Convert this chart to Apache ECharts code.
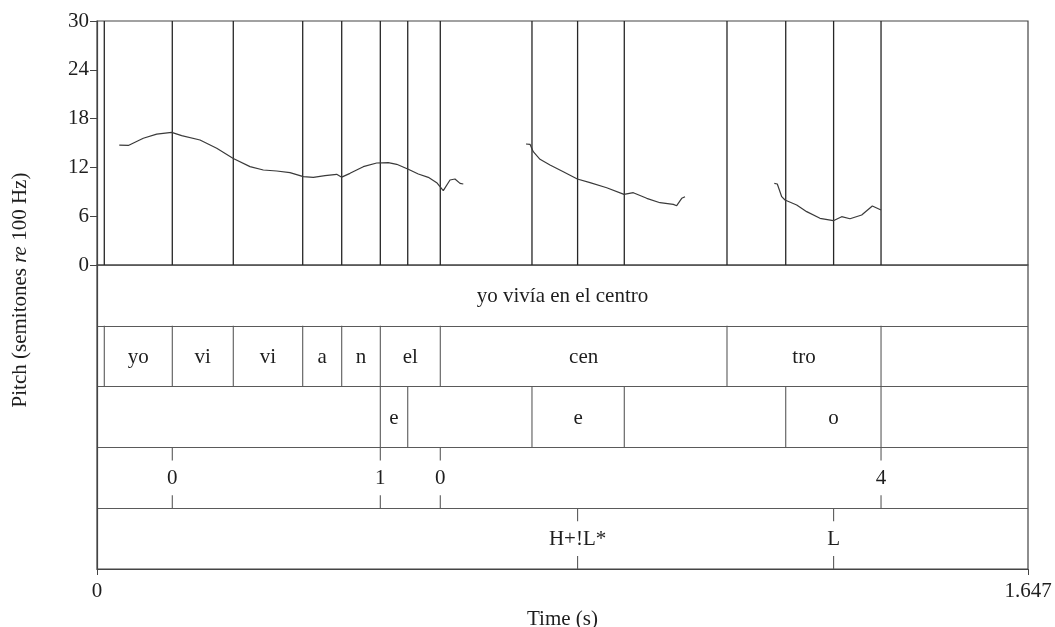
<!DOCTYPE html>
<html>
<head>
<meta charset="utf-8">
<script src="https://cdn.jsdelivr.net/npm/echarts@6/dist/echarts.min.js"></script>
<style>
  html, body { margin: 0; padding: 0; background: #fff; }
  #chart { width: 1055px; height: 627px; }
</style>
</head>
<body>
<div id="chart"></div>
<script>
// Sound duration (s) and pitch axis ticks (semitones re 100 Hz)
const DURATION = 1.647;
const pitchTicks = [0, 6, 12, 18, 24, 30];
const timeTickValues = [0, DURATION];
const timeTickLabels = ['0', '1.647'];

// Pitch track; null separates voiced stretches
const pitchTime = [
  0.0394, 0.0554, 0.0819, 0.1056, 0.1321, 0.1498, 0.1822, 0.2118, 0.2411, 0.2707,
  0.2942, 0.3179, 0.3414, 0.3650, 0.3827, 0.4034, 0.4240, 0.4329, 0.4476, 0.4711,
  0.4948, 0.5153, 0.5302, 0.5507, 0.5684, 0.5861, 0.6010, 0.6126, 0.6245, 0.6333,
  0.6422, 0.6480,
  null,
  0.7589, 0.7660, 0.7718, 0.7837, 0.8014, 0.8249, 0.8497, 0.8722, 0.9017, 0.9323,
  0.9488, 0.9725, 0.9960, 1.0195, 1.0255, 1.0344, 1.0402,
  null,
  1.1982, 1.2035, 1.2113, 1.2171, 1.2378, 1.2555, 1.2790, 1.3026, 1.3174, 1.3321,
  1.3528, 1.3716, 1.3870
];
const pitchSemitones = [
  14.75, 14.70, 15.58, 16.10, 16.30, 15.90, 15.37, 14.35, 13.10, 12.10,
  11.68, 11.56, 11.35, 10.86, 10.78, 10.98, 11.15, 10.80, 11.27, 12.09,
  12.54, 12.58, 12.38, 11.77, 11.19, 10.78, 10.12, 9.14, 10.45, 10.57,
  10.04, 9.96,
  null,
  14.88, 14.84, 13.93, 12.99, 12.30, 11.47, 10.57, 10.12, 9.50, 8.69,
  8.89, 8.20, 7.66, 7.46, 7.29, 8.20, 8.40,
  null,
  10.04, 9.96, 8.40, 7.99, 7.38, 6.56, 5.74, 5.45, 5.94, 5.69,
  6.15, 7.25, 6.76
];

// Tier 1: utterance (one interval over the whole file)
const utteranceBounds = [];
const utteranceLabels = ['yo vivía en el centro'];
// Tier 2: syllables
const syllableBounds = [0.0129, 0.1332, 0.2411, 0.3639, 0.4329, 0.5012, 0.6073, 1.1145, 1.3870];
const syllableLabels = ['', 'yo', 'vi', 'vi', 'a', 'n', 'el', 'cen', 'tro', ''];
// Tier 3: stressed vowels
const vowelBounds = [0.5012, 0.5497, 0.7695, 0.9328, 1.2184, 1.3870];
const vowelLabels = ['', 'e', '', 'e', '', 'o', ''];
// Tier 4: break indices (point tier)
const breakTimes = [0.1332, 0.5012, 0.6073, 1.3870];
const breakLabels = ['0', '1', '0', '4'];
// Tier 5: tones (point tier)
const toneTimes = [0.8502, 1.3031];
const toneLabels = ['H+!L*', 'L'];

const FONT = '"Liberation Serif", "Times New Roman", serif';
const FONT_SIZE = 21;
const INK = '#1e1e1e';
const FRAME = '#444';
const TIER_LINE = '#5a5a5a';
const TIERS = 5;

// ---- derived data ----
// split the pitch track into voiced segments
const pitchSegments = [];
let cur = [];
pitchTime.forEach((t, i) => {
  if (t === null || pitchSemitones[i] === null) {
    if (cur.length) pitchSegments.push(cur);
    cur = [];
  } else {
    cur.push([t, pitchSemitones[i]]);
  }
});
if (cur.length) pitchSegments.push(cur);

// interval tiers: [bounds, labels, row]
const intervalTiers = [
  [utteranceBounds, utteranceLabels, 0],
  [syllableBounds, syllableLabels, 1],
  [vowelBounds, vowelLabels, 2]
];
const pointTiers = [
  [breakTimes, breakLabels, 3],
  [toneTimes, toneLabels, 4]
];

const boundaryData = [];   // [time, row]
const pointData = [];      // [time, row]
const textData = [];       // [time, row]
const textStrings = [];
intervalTiers.forEach(([bounds, labels, row]) => {
  bounds.forEach(b => boundaryData.push([b, row]));
  const edges = [0].concat(bounds, [DURATION]);
  labels.forEach((lab, i) => {
    if (lab) {
      textData.push([(edges[i] + edges[i + 1]) / 2, row]);
      textStrings.push(lab);
    }
  });
});
pointTiers.forEach(([times, labels, row]) => {
  times.forEach((t, i) => {
    pointData.push([t, row]);
    textData.push([t, row]);
    textStrings.push(labels[i]);
  });
});

// every tier mark is also drawn through the pitch panel
const markSet = new Set();
intervalTiers.forEach(([bounds]) => bounds.forEach(b => markSet.add(b)));
pointTiers.forEach(([times]) => times.forEach(t => markSet.add(t)));
const pitchMarks = Array.from(markSet).sort((a, b) => a - b).map(t => [t]);

const rowTop = row => TIERS - row;
const rowBottom = row => TIERS - row - 1;

const chart = echarts.init(document.getElementById('chart'), null, { renderer: 'canvas' });

const series = [];

// vertical tier marks across the pitch panel
series.push({
  type: 'custom',
  xAxisIndex: 0, yAxisIndex: 0,
  data: pitchMarks,
  silent: true,
  z: 2,
  renderItem: (params, api) => {
    const t = api.value(0);
    const a = api.coord([t, 30]);
    const b = api.coord([t, 0]);
    return { type: 'line', shape: { x1: a[0], y1: a[1], x2: b[0], y2: b[1] },
             style: { stroke: '#262626', lineWidth: 1.3 } };
  }
});

// pitch contour
pitchSegments.forEach(seg => {
  series.push({
    type: 'line',
    xAxisIndex: 0, yAxisIndex: 0,
    data: seg,
    showSymbol: false,
    symbol: 'none',
    smooth: false,
    silent: true,
    z: 3,
    lineStyle: { color: '#3a3a3a', width: 1.2 }
  });
});

// interval boundaries inside the tiers
series.push({
  type: 'custom',
  xAxisIndex: 1, yAxisIndex: 1,
  data: boundaryData,
  silent: true,
  renderItem: (params, api) => {
    const t = api.value(0), row = api.value(1);
    const a = api.coord([t, rowTop(row)]);
    const b = api.coord([t, rowBottom(row)]);
    return { type: 'line', shape: { x1: a[0], y1: a[1], x2: b[0], y2: b[1] },
             style: { stroke: TIER_LINE, lineWidth: 1.1 } };
  }
});

// point-tier ticks (short marks at the top and bottom of the row)
series.push({
  type: 'custom',
  xAxisIndex: 1, yAxisIndex: 1,
  data: pointData,
  silent: true,
  renderItem: (params, api) => {
    const t = api.value(0), row = api.value(1);
    const a = api.coord([t, rowTop(row)]);
    const b = api.coord([t, rowBottom(row)]);
    const len = 13;
    const st = { stroke: TIER_LINE, lineWidth: 1.1 };
    return { type: 'group', children: [
      { type: 'line', shape: { x1: a[0], y1: a[1], x2: a[0], y2: a[1] + len }, style: st },
      { type: 'line', shape: { x1: b[0], y1: b[1] - len, x2: b[0], y2: b[1] }, style: st }
    ] };
  }
});

// tier labels
series.push({
  type: 'custom',
  xAxisIndex: 1, yAxisIndex: 1,
  data: textData,
  silent: true,
  renderItem: (params, api) => {
    const t = api.value(0), row = api.value(1);
    const p = api.coord([t, (rowTop(row) + rowBottom(row)) / 2]);
    return { type: 'text', x: p[0], y: p[1] + 1,
             style: { text: textStrings[params.dataIndex], fill: INK, font: FONT_SIZE + 'px ' + FONT,
                      align: 'center', verticalAlign: 'middle' } };
  }
});

const gridCommon = {
  left: 97, width: 931, show: true, borderColor: FRAME, borderWidth: 1.2,
  backgroundColor: 'transparent', containLabel: false, outerBoundsMode: 'none'
};

const option = {
  animation: false,
  backgroundColor: '#fff',
  grid: [
    Object.assign({ top: 21, height: 244 }, gridCommon),
    Object.assign({ top: 265, height: 304 }, gridCommon)
  ],
  xAxis: [
    { type: 'value', gridIndex: 0, min: 0, max: DURATION, show: false },
    {
      type: 'value', gridIndex: 1, min: 0, max: DURATION,
      axisLine: { show: true, lineStyle: { color: FRAME, width: 1.2 } },
      axisTick: { show: true, inside: false, length: 6, customValues: timeTickValues, lineStyle: { color: FRAME } },
      axisLabel: {
        show: true, customValues: timeTickValues, margin: 12,
        formatter: v => timeTickLabels[timeTickValues.indexOf(v)] ?? '',
        fontFamily: FONT, fontSize: FONT_SIZE, color: INK
      },
      splitLine: { show: false },
      name: 'Time (s)', nameLocation: 'middle', nameGap: 40,
      nameTextStyle: { fontFamily: FONT, fontSize: FONT_SIZE, color: INK }
    }
  ],
  yAxis: [
    {
      type: 'value', gridIndex: 0, min: pitchTicks[0], max: pitchTicks[pitchTicks.length - 1], interval: 6,
      axisLine: { show: true, lineStyle: { color: FRAME, width: 1.2 } },
      axisTick: { show: true, inside: false, length: 7, lineStyle: { color: FRAME } },
      axisLabel: { margin: 8, fontFamily: FONT, fontSize: FONT_SIZE, color: INK },
      splitLine: { show: false }
    },
    {
      type: 'value', gridIndex: 1, min: 0, max: TIERS, interval: 1,
      axisLine: { show: true, lineStyle: { color: FRAME, width: 1.2 } },
      axisTick: { show: false },
      axisLabel: { show: false },
      splitLine: { show: true, lineStyle: { color: TIER_LINE, width: 1.1 } }
    }
  ],
  graphic: [
    {
      type: 'text', x: 20, y: 290, rotation: Math.PI / 2,
      style: {
        text: '{a|Pitch (semitones }{b|re}{a| 100 Hz)}',
        align: 'center', verticalAlign: 'middle',
        rich: {
          a: { fontFamily: FONT, fontSize: FONT_SIZE, fill: INK, color: INK },
          b: { fontFamily: FONT, fontSize: FONT_SIZE, fontStyle: 'italic', fill: INK, color: INK }
        }
      }
    }
  ],
  series
};

chart.setOption(option);
</script>
</body>
</html>
